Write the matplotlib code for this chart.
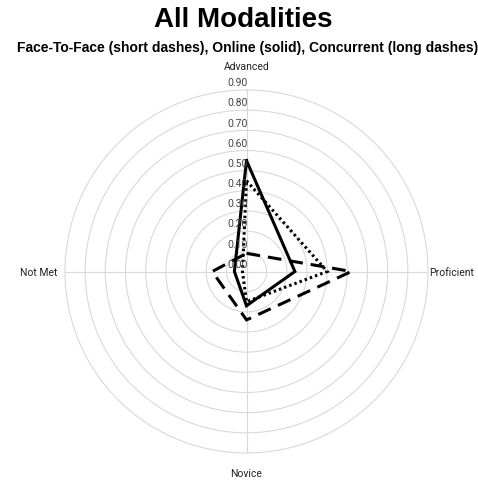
import numpy as np
import matplotlib.pyplot as plt

# axes clockwise from the top
categories = ["Advanced", "Proficient", "Novice", "Not Met"]
face_to_face = [0.45, 0.40, 0.15, 0.02]
online = [0.55, 0.24, 0.17, 0.06]
concurrent = [0.09, 0.52, 0.24, 0.17]
r_ticks = [0.0, 0.1, 0.2, 0.3, 0.4, 0.5, 0.6, 0.7, 0.8, 0.9]

plt.rcParams['font.family'] = ['Roboto', 'DejaVu Sans']

fig = plt.figure(figsize=(4.78, 4.85), dpi=100)
ax = fig.add_axes([65 / 478, 31 / 485, 363 / 478, 363 / 485], projection='polar')
ax.set_theta_zero_location('N')
ax.set_theta_direction(-1)

angles = np.linspace(0, 2 * np.pi, len(categories), endpoint=False)
theta = np.append(angles, angles[0])

def closed(vals):
    return np.append(vals, vals[0])

ax.plot(theta, closed(face_to_face), color='black', lw=2.2,
        linestyle=(0, (0.8, 1.0)), dash_joinstyle='miter', dash_capstyle='butt')
ax.plot(theta, closed(online), color='black', lw=2.2, solid_joinstyle='miter')
ax.plot(theta, closed(concurrent), color='black', lw=2.2,
        linestyle=(0, (4.5, 2.6)), dash_joinstyle='miter', dash_capstyle='butt')

ax.set_ylim(0, 0.9)
ax.set_yticks(r_ticks[1:-1])
ax.set_yticklabels([])
ax.set_xticks(angles)
ax.set_xticklabels([])
ax.grid(True, color='#d9d9d9', lw=0.8)
ax.spines['polar'].set_color('#d9d9d9')
ax.spines['polar'].set_linewidth(0.8)

# radial tick labels along the vertical axis
for r in r_ticks:
    ax.annotate(f"{r:.2f}", xy=(0, r), xytext=(1, 2), textcoords='offset points',
                ha='right', va='bottom', fontsize=7.5, color='#444444',
                annotation_clip=False)

# category labels
ax.text(0, 1.02, categories[0], ha='center', va='center', fontsize=7.5, color='#222222', clip_on=False)
ax.text(np.pi / 2, 0.905, categories[1], ha='left', va='center', fontsize=7.5, color='#222222', clip_on=False)
ax.text(np.pi, 1.0, categories[2], ha='center', va='center', fontsize=7.5, color='#222222', clip_on=False)
ax.text(3 * np.pi / 2, 0.94, categories[3], ha='right', va='center', fontsize=7.5, color='#222222', clip_on=False)

fig.text(243 / 478, 1 - 20 / 485, "All Modalities", ha='center', va='center',
         fontsize=20, fontweight='bold', family='Liberation Sans')
fig.text(248 / 478, 1 - 48 / 485, "Face-To-Face (short dashes), Online (solid), Concurrent (long dashes)",
         ha='center', va='center', fontsize=10, fontweight='bold', family='Liberation Sans')

fig.savefig('out.png', dpi=100, facecolor='white')
